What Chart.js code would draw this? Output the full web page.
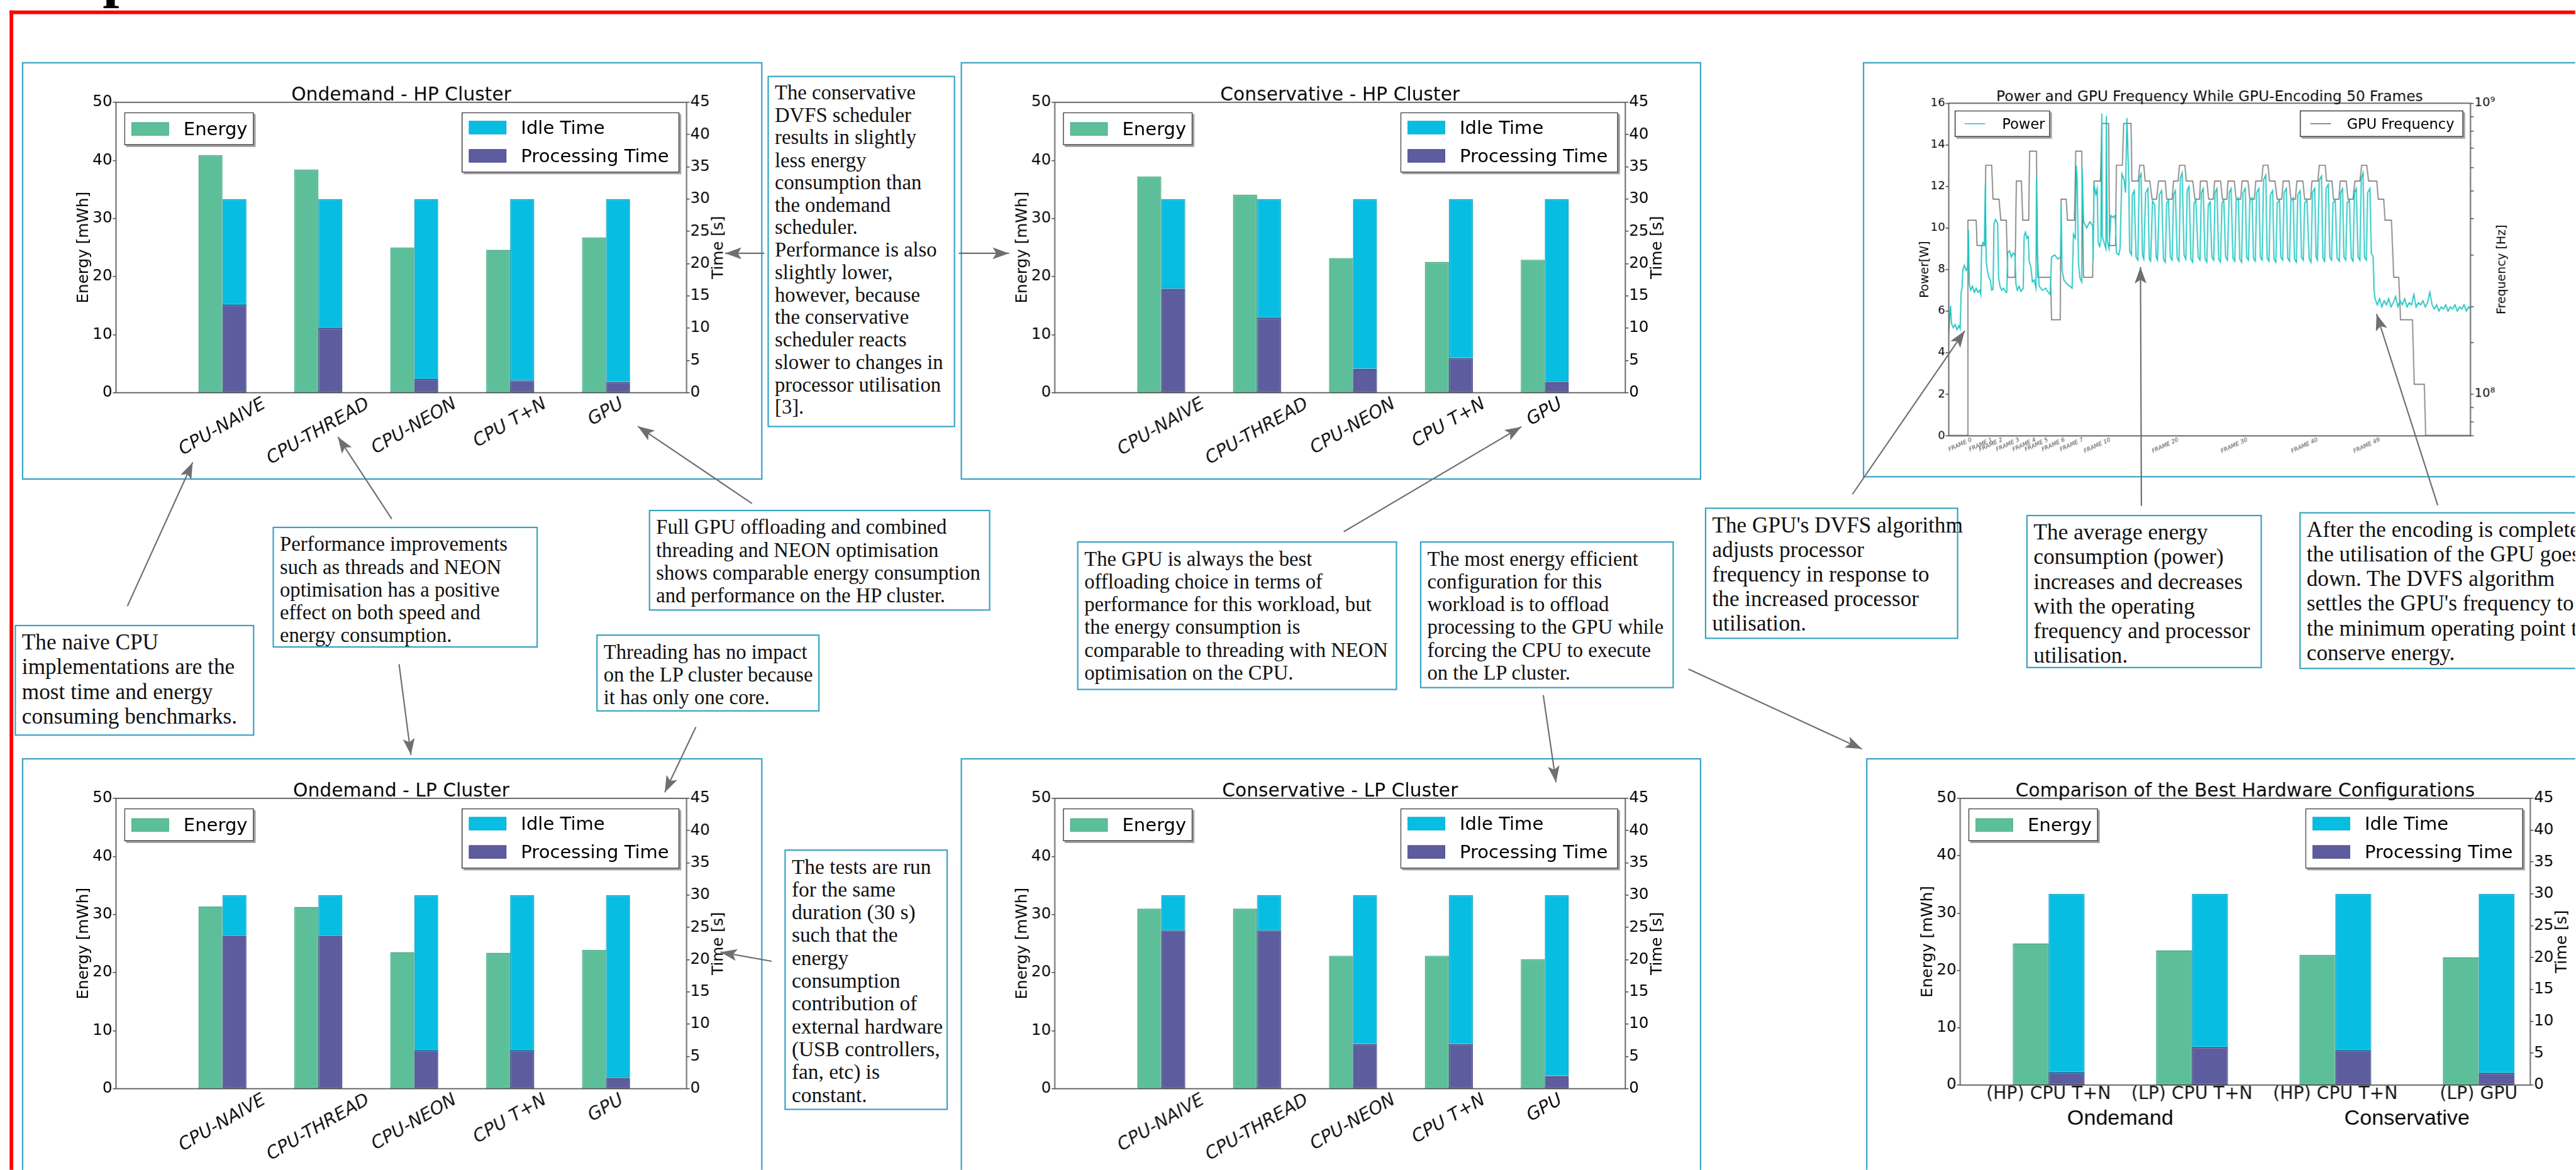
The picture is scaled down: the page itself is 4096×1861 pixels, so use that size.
<!DOCTYPE html>
<html>
<head>
<meta charset="utf-8">
<title>DVFS energy and performance poster</title>
<script src="https://cdn.jsdelivr.net/npm/chart.js@4.4.1/dist/chart.umd.min.js"></script>
<style>
  html, body { margin: 0; padding: 0; background: #fff; width: 4096px; height: 1861px; overflow: hidden; }
  #page { position: absolute; left: 0; top: 0; width: 5640px; height: 2563px; transform: scale(0.726); transform-origin: 0 0; overflow: hidden; background: #fff; }
  .frame { position: absolute; left: 21px; top: 23px; width: 5800px; height: 2800px; border-left: 8px solid #ff0000; border-top: 8px solid #ff0000; }
  .glyph { position: absolute; left: 225px; top: -118px; font: bold 130px/130px "Liberation Serif", serif; color: #000; }
  .panel { position: absolute; outline: 3px solid #38a2c3; outline-offset: -3px; }
  .panel canvas { position: absolute; left: 0; top: 0; }
  .note { position: absolute; box-sizing: border-box; border: 3px solid #38a2c3; background: #fff; color: #111;
          font-family: "Liberation Serif", serif; font-size: 45px; line-height: 50px; padding: 10px 13px; white-space: nowrap; }
  .note.big { font-size: 48.5px; line-height: 54px; padding: 8px 13px; }
  .legend { position: absolute; box-sizing: border-box; background: #fff; border: 2px solid #3a3a3a; box-shadow: 4px 4px 0 #a3a3a3;
            font-family: "DejaVu Sans", sans-serif; font-size: 40px; color: #000; }
  .legend .row { display: flex; align-items: center; height: 62px; white-space: nowrap; }
  .legend.single .row { height: 68px; }
  .legend .sw { width: 82px; height: 29px; margin-left: 14px; margin-right: 32px; box-sizing: border-box; border: 1px solid; }
  .legend.line { font-size: 31px; }
  .legend.line .row { height: 54px; }
  .legend .ln { width: 45px; height: 0; border-top: 2.5px solid; margin-left: 20px; margin-right: 37px; }
  #arrows { position: absolute; left: 0; top: 0; }
</style>
</head>
<body>
<div id="page">
  <div class="glyph">p</div>
  <div class="frame"></div>

  <div class="note" style="left:1681px;top:166px;width:411px;height:770px;line-height:49.2px;">The conservative<br>DVFS scheduler<br>results in slightly<br>less energy<br>consumption than<br>the ondemand<br>scheduler.<br>Performance is also<br>slightly lower,<br>however, because<br>the conservative<br>scheduler reacts<br>slower to changes in<br>processor utilisation<br>[3].</div>
  <div class="note" style="left:597px;top:1154px;width:581px;height:265px;">Performance improvements<br>such as threads and NEON<br>optimisation has a positive<br>effect on both speed and<br>energy consumption.</div>
  <div class="note" style="left:1421px;top:1117px;width:748px;height:221px;">Full GPU offloading and combined<br>threading and NEON optimisation<br>shows comparable energy consumption<br>and performance on the HP cluster.</div>
  <div class="note big" style="left:32px;top:1369px;width:525px;height:243px;">The naive CPU<br>implementations are the<br>most time and energy<br>consuming benchmarks.</div>
  <div class="note" style="left:1306px;top:1390px;width:489px;height:169px;">Threading has no impact<br>on the LP cluster because<br>it has only one core.</div>
  <div class="note" style="left:1718px;top:1861px;width:358px;height:571px;font-size:46px;">The tests are run<br>for the same<br>duration (30 s)<br>such that the<br>energy<br>consumption<br>contribution of<br>external hardware<br>(USB controllers,<br>fan, etc) is<br>constant.</div>
  <div class="note" style="left:2359px;top:1186px;width:701px;height:326px;">The GPU is always the best<br>offloading choice in terms of<br>performance for this workload, but<br>the energy consumption is<br>comparable to threading with NEON<br>optimisation on the CPU.</div>
  <div class="note" style="left:3110px;top:1186px;width:556px;height:322px;">The most energy efficient<br>configuration for this<br>workload is to offload<br>processing to the GPU while<br>forcing the CPU to execute<br>on the LP cluster.</div>
  <div class="note big" style="left:3734px;top:1112px;width:555px;height:288px;">The GPU's DVFS algorithm<br>adjusts processor<br>frequency in response to<br>the increased processor<br>utilisation.</div>
  <div class="note big" style="left:4438px;top:1128px;width:516px;height:336px;">The average energy<br>consumption (power)<br>increases and decreases<br>with the operating<br>frequency and processor<br>utilisation.</div>
  <div class="note big" style="left:5036px;top:1122px;width:720px;height:344px;">After the encoding is completed,<br>the utilisation of the GPU goes<br>down. The DVFS algorithm<br>settles the GPU's frequency to<br>the minimum operating point to<br>conserve energy.</div>

  <svg id="arrows" width="5640" height="2563" viewBox="0 0 5640 2563">
    <defs>
      <marker id="head" viewBox="0 -14 38 28" refX="36" refY="0" markerWidth="38" markerHeight="28" markerUnits="userSpaceOnUse" orient="auto">
        <path d="M36,0 L0,-13 L8,0 L0,13 Z" fill="#6f6f6f"></path>
      </marker>
    </defs>
    <g stroke="#6f6f6f" stroke-width="3" fill="none" marker-end="url(#head)">
      <line x1="1674" y1="555" x2="1588" y2="555"></line>
      <line x1="2100" y1="555" x2="2210" y2="555"></line>
      <line x1="279" y1="1328" x2="422" y2="1013"></line>
      <line x1="858" y1="1137" x2="740" y2="957"></line>
      <line x1="874" y1="1455" x2="900" y2="1654"></line>
      <line x1="1647" y1="1103" x2="1397" y2="934"></line>
      <line x1="1524" y1="1593" x2="1456" y2="1736"></line>
      <line x1="1690" y1="2106" x2="1578" y2="2086"></line>
      <line x1="2943" y1="1165" x2="3332" y2="935"></line>
      <line x1="3380" y1="1523" x2="3408" y2="1714"></line>
      <line x1="3698" y1="1466" x2="4078" y2="1641"></line>
      <line x1="4057" y1="1083" x2="4303" y2="725"></line>
      <line x1="4690" y1="1108" x2="4688" y2="585"></line>
      <line x1="5339" y1="1107" x2="5205" y2="688"></line>
    </g>
  </svg>
</div>

<script>
// ---- data ----
const categories = ['CPU-NAIVE', 'CPU-THREAD', 'CPU-NEON', 'CPU T+N', 'GPU'];
const bestLabels = ['(HP) CPU T+N', '(LP) CPU T+N', '(HP) CPU T+N', '(LP) GPU'];
const governorLabels = ['Ondemand', 'Conservative'];

// energy in mWh, times in s (processing + idle = 30 s run)
const energyOndemandHP = [40.9, 38.4, 25.0, 24.6, 26.7];
const procOndemandHP = [13.6, 10.0, 2.1, 1.9, 1.65];
const idleOndemandHP = [16.4, 20.0, 27.9, 28.1, 28.35];

const energyConservHP = [37.2, 34.1, 23.2, 22.5, 22.9];
const procConservHP = [16.1, 11.55, 3.7, 5.35, 1.67];
const idleConservHP = [13.9, 18.45, 26.3, 24.65, 28.33];

const energyOndemandLP = [31.4, 31.3, 23.5, 23.4, 23.9];
const procOndemandLP = [23.7, 23.7, 5.9, 5.9, 1.67];
const idleOndemandLP = [6.3, 6.3, 24.1, 24.1, 28.33];

const energyConservLP = [31.0, 31.0, 22.9, 22.9, 22.3];
const procConservLP = [24.5, 24.5, 6.9, 6.9, 1.95];
const idleConservLP = [5.5, 5.5, 23.1, 23.1, 28.05];

const energyBest = [24.7, 23.5, 22.7, 22.3];
const procBest = [1.95, 5.9, 5.4, 1.86];
const idleBest = [28.05, 24.1, 24.6, 28.14];

// power trace: [sample, watts]
const powerTrace = [
  [0,4.9],[2,5.7],[4,6.25],[6,5.4],[10,5.2],[14,5.35],[18,5.1],[22,5.3],[25,5.15],[27,6.9],[29,7.1],[31,8.0],[34,8.2],[38,7.95],[41,8.1],
  [43,9.9],[45,7.3],[48,7.0],[52,7.2],[56,6.9],[60,7.1],[64,6.9],[68,7.0],[70,6.8],[72,9.1],[75,9.3],[78,9.2],[80,12.1],[82,8.4],[85,7.9],
  [88,7.6],[91,7.5],[94,7.0],[97,7.05],[99,10.2],[102,10.4],[105,10.3],[107,10.2],[109,7.6],[112,7.2],[116,7.0],[120,7.1],[125,6.9],[127,6.9],
  [129,8.8],[133,8.9],[137,8.6],[141,8.8],[145,8.7],[147,7.3],[150,7.0],[154,7.2],[158,6.95],[163,7.1],[165,9.6],[168,9.8],[171,9.5],[174,9.6],
  [176,8.4],[180,8.1],[183,7.4],[187,7.5],[191,7.1],[192,12.4],[194,8.6],[198,7.2],[205,7.0],[212,7.1],[218,6.9],[222,6.8],[225,8.6],[232,8.7],
  [239,8.5],[245,8.6],[246,11.2],[248,8.0],[252,7.5],[259,7.3],[265,7.2],[270,7.1],[273,9.7],[277,9.5],[279,13.0],[281,12.3],[284,8.3],[287,7.6],
  [291,7.4],[292,12.9],[295,10.3],[302,10.0],[309,10.3],[315,10.1],[316,8.4],[318,12.1],[322,11.6],[325,11.9],[327,9.3],[330,9.1],[333,9.4],
  [335,15.5],[336,9.6],[340,9.3],[344,9.0],[345,15.4],[347,9.4],[351,9.0],[355,10.6],[359,10.5],[364,10.6],[365,10.2],[367,8.8],[372,8.7],
  [375,9.0],[379,12.6],[384,12.3],[387,11.7],[390,15.3],[394,12.4],[396,8.9],[400,8.7],
  [402,11.6],[406,11.8],[410,8.6],[414,8.45],[417,12.4],[421,12.6],[424,8.7],[427,8.5],[431,11.7],[436,11.9],[439,8.5],[442,8.4],
  [446,11.3],[451,11.1],[454,8.6],[457,8.45],[461,11.6],[466,11.8],[470,8.5],[474,8.35],[477,11.2],[481,11.35],[485,8.6],[489,8.45],
  [492,11.6],[496,11.8],[500,8.55],[504,8.4],[507,12.4],[511,12.65],[515,8.7],[519,8.5],[522,11.8],[526,12.0],[530,8.5],[534,8.35],
  [537,11.2],[541,11.35],[546,8.6],[550,8.45],[553,11.7],[557,11.9],[561,8.5],[565,8.35],[568,11.1],[572,11.25],[576,8.6],[580,8.45],
  [583,11.7],[587,11.9],[591,8.5],[595,8.35],[598,11.2],[602,11.35],[606,8.6],[610,8.45],[614,11.7],[618,11.9],[622,8.55],[626,8.4],
  [629,11.3],[634,11.45],[637,8.5],[641,8.35],[644,11.7],[649,11.9],[652,8.6],[656,8.45],[659,11.3],[664,11.45],[667,8.55],[671,8.4],
  [674,11.7],[679,11.9],[682,8.6],[686,8.45],[689,12.3],[694,12.55],[697,8.55],[701,8.4],[704,11.6],[709,11.8],[712,8.5],[716,8.35],
  [719,11.2],[724,11.35],[727,8.6],[731,8.45],[734,11.7],[739,11.9],[742,8.55],[746,8.4],[749,11.3],[754,11.45],[757,8.5],[761,8.35],
  [764,11.6],[769,11.8],[772,8.6],[776,8.45],[779,11.2],[784,11.35],[789,8.5],[793,8.35],[796,11.7],[801,11.9],[804,8.6],[807,8.45],
  [811,12.3],[816,12.5],[819,8.55],[823,8.4],[826,11.9],[831,12.1],[834,8.6],[838,8.45],[841,11.2],[846,11.35],[850,8.55],[855,8.4],
  [858,11.7],[862,11.9],[865,8.6],[869,8.45],[872,11.2],[877,11.35],[881,8.55],[885,8.4],[888,11.7],[892,11.9],[896,8.6],[900,8.45],
  [903,12.4],[907,12.65],[910,8.6],[914,8.45],[917,11.7],[922,11.9],[925,8.8],[929,8.6],
  [931,7.0],[933,6.6],[938,6.3],[943,6.6],[948,6.2],[953,6.5],[958,6.3],[963,6.6],[968,6.2],[973,6.4],[978,6.7],[983,6.2],[988,6.5],
  [993,6.3],[998,6.6],[1003,6.2],[1008,6.4],[1013,6.3],[1018,6.8],[1023,6.2],[1028,6.4],[1033,6.3],[1038,6.5],[1043,6.2],[1048,6.4],
  [1053,6.9],[1058,6.3],[1063,6.1],[1068,6.3],[1073,6.0],[1078,6.2],[1083,6.1],[1088,6.3],[1093,6.0],[1098,6.2],[1103,6.1],[1108,6.3],
  [1113,6.0],[1118,6.2],[1123,6.1],[1128,6.3],[1133,6.0],[1138,6.2],[1141,6.1]
];

// GPU frequency trace: [sample, MHz]
const freqTrace = [
  [0,72],[42,72],[42,396],[60,396],[62,324],[79,324],[81,612],[94,612],[97,468],[110,468],[114,396],[126,396],[129,252],[145,252],
  [148,540],[159,540],[162,396],[175,396],[177,684],[192,684],[195,252],[223,252],[225,180],[244,180],[246,468],[257,468],[260,396],
  [275,396],[278,684],[291,684],[295,252],[315,252],[318,540],[332,540],[335,852],[350,852],[352,324],[365,324],[367,612],[380,612],
  [383,852],[399,852],[401,540],[415,540],[418,612],[427,612],[430,540],[440,540],[445,468],[455,468],[459,540],[474,540],[477,468],
  [489,468],[492,540],[502,540],[505,612],[517,612],[520,540],[534,540],[539,468],[549,468],[551,540],[565,540],[569,468],[579,468],
  [582,540],[595,540],[599,468],[609,468],[611,540],[625,540],[629,468],[639,468],[642,540],[655,540],[659,468],[669,468],[672,540],
  [685,540],[688,612],[699,612],[702,540],[714,540],[719,468],[729,468],[732,540],[745,540],[749,468],[759,468],[762,540],[775,540],
  [779,468],[792,468],[795,540],[808,540],[811,612],[824,612],[827,540],[839,540],[842,468],[854,468],[857,540],[870,540],[874,468],
  [885,468],[889,540],[900,540],[904,612],[915,612],[919,540],[937,540],[940,468],[952,468],[955,396],[969,396],[974,252],[985,252],
  [989,180],[1015,180],[1019,108],[1041,108],[1044,72],[1142,72]
];

const frameTickX = [25, 70, 92, 129, 165, 192, 229, 269, 325, 474, 625, 779, 915];
const frameTickLabels = ['FRAME 0', 'FRAME 1', 'FRAME 2', 'FRAME 3', 'FRAME 4', 'FRAME 5', 'FRAME 6', 'FRAME 7',
  'FRAME 10', 'FRAME 20', 'FRAME 30', 'FRAME 40', 'FRAME 49'];

// ---- styling ----
const GREEN = '#5dbf99', GREEN_EDGE = '#47a883';
const CYAN = '#08bde2', CYAN_EDGE = '#0aa5c7';
const PURPLE = '#5c5c9f', PURPLE_EDGE = '#46467e';
const POWER = '#18c4c0', FREQ = '#686868';
const SANS = '"DejaVu Sans", sans-serif';
const DPR = 0.726;

Chart.defaults.font.family = SANS;
Chart.defaults.color = '#000';

// panel boxes in reference pixels, plot area given relative to the panel
const panels = {
  odHP: { left: 48, top: 136, w: 1622, h: 915, plotL: 206, plotT: 88, plotR: 1455, plotB: 724 },
  csHP: { left: 2104, top: 136, w: 1622, h: 915, plotL: 206, plotT: 88, plotR: 1455, plotB: 724 },
  odLP: { left: 48, top: 1661, w: 1622, h: 930, plotL: 206, plotT: 88, plotR: 1455, plotB: 724 },
  csLP: { left: 2104, top: 1661, w: 1622, h: 930, plotL: 206, plotT: 88, plotR: 1455, plotB: 724 },
  best: { left: 4087, top: 1661, w: 1622, h: 930, plotL: 206, plotT: 88, plotR: 1454, plotB: 716 },
  power: { left: 4080, top: 136, w: 1600, h: 910, plotL: 188, plotT: 90, plotR: 1330, plotB: 818 }
};

const page = document.getElementById('page');
const deco = {};

function addPanel(id) {
  const p = panels[id];
  const div = document.createElement('div');
  div.className = 'panel';
  div.style.cssText = `left:${p.left}px;top:${p.top}px;width:${p.w}px;height:${p.h}px;`;
  const canvas = document.createElement('canvas');
  canvas.id = 'c_' + id;
  canvas.width = p.w;
  canvas.height = p.h;
  div.appendChild(canvas);
  page.insertBefore(div, document.getElementById('arrows'));
  return div;
}

function addBox(parent, cls, left, top, w, h, html) {
  const el = document.createElement('div');
  el.className = 'legend ' + cls;
  el.style.cssText = `left:${left}px;top:${top}px;width:${w}px;height:${h}px;`;
  el.innerHTML = html;
  parent.appendChild(el);
}

function swatch(fill, edge, text) {
  return `<div class="row"><div class="sw" style="background:${fill};border-color:${edge}"></div>${text}</div>`;
}

// frame, title, axis titles and x labels
const decoPlugin = {
  id: 'deco',
  afterDatasetsDraw(chart) {
    const d = deco[chart.canvas.id];
    const ctx = chart.ctx, a = chart.chartArea;
    ctx.save();
    ctx.strokeStyle = '#5a5a5a';
    ctx.lineWidth = 2.5;
    ctx.strokeRect(a.left, a.top, a.right - a.left, a.bottom - a.top);

    ctx.fillStyle = '#000';
    ctx.textAlign = 'center';
    ctx.textBaseline = 'alphabetic';
    ctx.font = d.titleFont;
    ctx.fillText(d.title, (a.left + a.right) / 2, a.top - 4);

    ctx.font = d.axisFont;
    ctx.textBaseline = 'middle';
    const midY = (a.top + a.bottom) / 2;
    [[d.leftTitle, a.left - d.leftDx], [d.rightTitle, a.right + d.rightDx]].forEach(([t, x]) => {
      ctx.save();
      ctx.translate(x, midY);
      ctx.rotate(-Math.PI / 2);
      ctx.fillText(t, 0, 0);
      ctx.restore();
    });

    ctx.font = d.tickFont;
    ctx.fillStyle = d.tickColor;
    const rot = d.tickRotation * Math.PI / 180;
    d.tickValues.forEach((v, i) => {
      const t = d.tickLabels[i];
      const x = chart.scales.x.getPixelForValue(v);
      const w = ctx.measureText(t).width;
      const h = d.tickSize * 0.73;
      const H = w * Math.sin(rot) + h * Math.cos(rot);
      ctx.save();
      ctx.translate(x, a.bottom + d.tickGap + H / 2);
      ctx.rotate(-rot);
      ctx.fillText(t, 0, 0);
      ctx.restore();
    });

    if (d.groupLabels) {
      ctx.font = '47px "Liberation Sans", sans-serif';
      ctx.fillStyle = '#000';
      d.groupLabels.forEach((t, i) => {
        ctx.fillText(t, chart.scales.x.getPixelForValue(d.groupPos[i]), a.bottom + 74);
      });
    }
    ctx.restore();
  }
};

function tickGrid() {
  return { drawOnChartArea: false, drawTicks: true, tickLength: 7, color: '#444', lineWidth: 2 };
}

function makeBarChart(id, title, labels, energy, proc, idle, xMin, xMax, upright, groups) {
  const p = panels[id];
  const div = addPanel(id);
  const xs = labels.map((_, i) => i);
  const canvasId = 'c_' + id;

  deco[canvasId] = {
    title, titleFont: `41px ${SANS}`,
    axisFont: `34px ${SANS}`, leftTitle: 'Energy [mWh]', rightTitle: 'Time [s]', leftDx: 70, rightDx: 70,
    tickValues: xs, tickLabels: labels, tickColor: '#111',
    tickFont: upright ? `39px ${SANS}` : `italic 39px ${SANS}`, tickSize: 39,
    tickRotation: upright ? 0 : 30, tickGap: upright ? 6 : 10,
    groupLabels: groups ? governorLabels : null, groupPos: [0.5, 2.5]
  };

  const barOpts = { borderWidth: 2, borderSkipped: false, categoryPercentage: 0.5, barPercentage: 1 };

  new Chart(document.getElementById(canvasId), {
    type: 'bar',
    data: {
      datasets: [
        Object.assign({ label: 'Energy', data: xs.map(i => ({ x: i, y: energy[i] })), yAxisID: 'y', stack: 'energy',
          backgroundColor: GREEN, borderColor: GREEN_EDGE }, barOpts),
        Object.assign({ label: 'Processing Time', data: xs.map(i => ({ x: i, y: proc[i] })), yAxisID: 'y2', stack: 'time',
          backgroundColor: PURPLE, borderColor: PURPLE_EDGE }, barOpts),
        Object.assign({ label: 'Idle Time', data: xs.map(i => ({ x: i, y: idle[i] })), yAxisID: 'y2', stack: 'time',
          backgroundColor: CYAN, borderColor: CYAN_EDGE }, barOpts)
      ]
    },
    options: {
      responsive: false,
      devicePixelRatio: DPR,
      animation: false,
      events: [],
      layout: { padding: { top: p.plotT, left: 0, right: 0, bottom: 0 } },
      plugins: { legend: { display: false }, tooltip: { enabled: false } },
      scales: {
        x: {
          type: 'linear', min: xMin, max: xMax, offset: false,
          afterBuildTicks: s => { s.ticks = xs.map(v => ({ value: v })); },
          ticks: { display: false }, grid: { display: false }, border: { display: false },
          afterFit: s => { s.height = p.h - p.plotB; }
        },
        y: {
          position: 'left', min: 0, max: 50,
          ticks: { stepSize: 10, font: { size: 34 }, padding: 1, autoSkip: false },
          grid: tickGrid(), border: { display: false },
          afterFit: s => { s.width = p.plotL; }
        },
        y2: {
          position: 'right', min: 0, max: 45,
          ticks: { stepSize: 5, font: { size: 34 }, padding: 1, autoSkip: false },
          grid: tickGrid(), border: { display: false },
          afterFit: s => { s.width = p.w - p.plotR; }
        }
      }
    },
    plugins: [decoPlugin]
  });

  addBox(div, 'single', p.plotL + 18, p.plotT + 22, 284, 72, swatch(GREEN, GREEN_EDGE, 'Energy'));
  addBox(div, '', p.plotR - 15 - 477, p.plotT + 22, 477, 132,
    swatch(CYAN, CYAN_EDGE, 'Idle Time') + swatch(PURPLE, PURPLE_EDGE, 'Processing Time'));
}

function makePowerChart() {
  const id = 'power';
  const p = panels[id];
  const div = addPanel(id);
  const canvasId = 'c_' + id;

  deco[canvasId] = {
    title: 'Power and GPU Frequency While GPU-Encoding 50 Frames', titleFont: `32px ${SANS}`,
    axisFont: `26px ${SANS}`, leftTitle: 'Power[W]', rightTitle: 'Frequency [Hz]', leftDx: 51, rightDx: 70,
    tickValues: frameTickX, tickLabels: frameTickLabels, tickColor: '#444',
    tickFont: `italic 12.5px ${SANS}`, tickSize: 12.5, tickRotation: 25, tickGap: 4,
    groupLabels: null
  };

  new Chart(document.getElementById(canvasId), {
    type: 'line',
    data: {
      datasets: [
        { label: 'Power', data: powerTrace.map(([x, w]) => ({ x, y: w })), yAxisID: 'y',
          borderColor: POWER, borderWidth: 2.5, pointRadius: 0, tension: 0, fill: false },
        { label: 'GPU Frequency', data: freqTrace.map(([x, f]) => ({ x, y: f * 1e6 })), yAxisID: 'yf',
          borderColor: FREQ, borderWidth: 2, pointRadius: 0, tension: 0, fill: false }
      ]
    },
    options: {
      responsive: false,
      devicePixelRatio: DPR,
      animation: false,
      events: [],
      layout: { padding: { top: p.plotT, left: 0, right: 0, bottom: 0 } },
      plugins: { legend: { display: false }, tooltip: { enabled: false } },
      scales: {
        x: {
          type: 'linear', min: 0, max: 1142, offset: false,
          ticks: { display: false }, grid: { display: false }, border: { display: false },
          afterFit: s => { s.height = p.h - p.plotB; }
        },
        y: {
          position: 'left', min: 0, max: 16,
          ticks: { stepSize: 2, font: { size: 25 }, padding: 1, autoSkip: false },
          grid: tickGrid(), border: { display: false },
          afterFit: s => { s.width = p.plotL; }
        },
        yf: {
          type: 'logarithmic', position: 'right', min: 7.18e7, max: 1e9,
          ticks: {
            font: { size: 27 }, padding: 2, autoSkip: false,
            callback: v => (v === 1e9 ? '10\u2079' : v === 1e8 ? '10\u2078' : '')
          },
          grid: tickGrid(), border: { display: false },
          afterFit: s => { s.width = p.w - p.plotR; }
        }
      }
    },
    plugins: [decoPlugin]
  });

  addBox(div, 'line', p.plotL + 13, p.plotT + 16, 209, 58,
    `<div class="row"><div class="ln" style="border-color:${POWER}"></div>Power</div>`);
  addBox(div, 'line', p.plotR - 15 - 358, p.plotT + 16, 358, 58,
    `<div class="row"><div class="ln" style="border-color:${FREQ};margin-left:21px;margin-right:35px"></div>GPU Frequency</div>`);
}

makeBarChart('odHP', 'Ondemand - HP Cluster', categories, energyOndemandHP, procOndemandHP, idleOndemandHP, -1.11, 4.84, false, false);
makeBarChart('csHP', 'Conservative - HP Cluster', categories, energyConservHP, procConservHP, idleConservHP, -1.11, 4.84, false, false);
makeBarChart('odLP', 'Ondemand - LP Cluster', categories, energyOndemandLP, procOndemandLP, idleOndemandLP, -1.11, 4.84, false, false);
makeBarChart('csLP', 'Conservative - LP Cluster', categories, energyConservLP, procConservLP, idleConservLP, -1.11, 4.84, false, false);
makeBarChart('best', 'Comparison of the Best Hardware Configurations', bestLabels, energyBest, procBest, idleBest, -0.617, 3.36, true, true);
makePowerChart();
</script>
</body>
</html>
